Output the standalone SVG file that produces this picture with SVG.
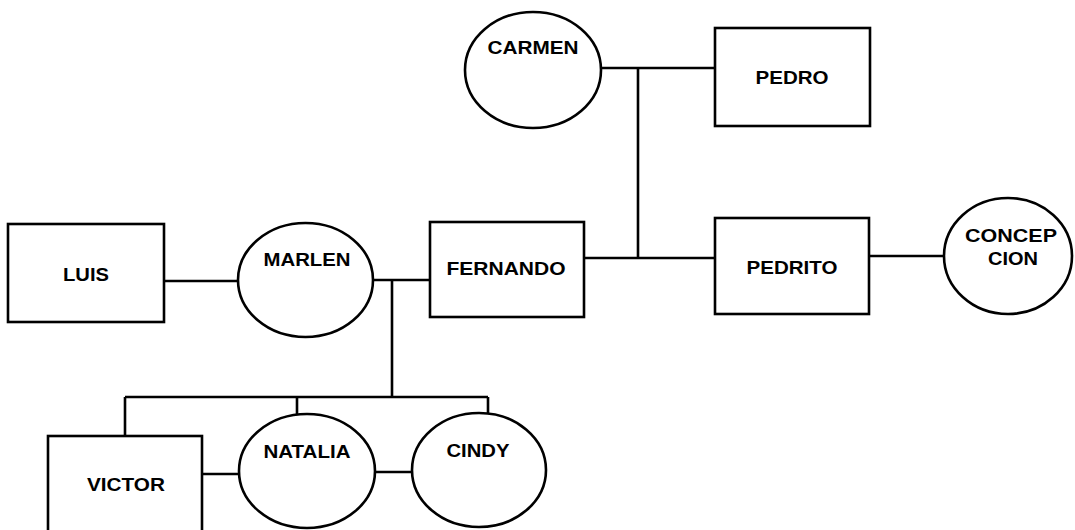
<svg xmlns="http://www.w3.org/2000/svg" width="1075" height="530" viewBox="0 0 1075 530">
<style>
.shape{fill:#fff;stroke:#000;stroke-width:2.6}
.conn{fill:none;stroke:#000;stroke-width:2.6}
text{font-family:"Liberation Sans",Arial,sans-serif;font-weight:bold;font-size:18px;fill:#000;text-anchor:middle}
</style>
<rect width="1075" height="530" fill="#fff"/>
<g id="connectors">
<path class="conn" d="M602,68 H715 M638,68 V258 M584,258 H715"/>
<path class="conn" d="M869,256 H944"/>
<path class="conn" d="M164,281 H238"/>
<path class="conn" d="M373,280 H430"/>
<path class="conn" d="M392,280 V397 M125,397 H488 M125,397 V436 M297,397 V415 M488,397 V413"/>
<path class="conn" d="M202,474 H240"/>
<path class="conn" d="M375,472 H412"/>
</g>
<g id="carmen"><ellipse class="shape" cx="533" cy="70" rx="68" ry="58"/><text x="533" y="54" textLength="91" lengthAdjust="spacingAndGlyphs">CARMEN</text></g>
<g id="pedro"><rect class="shape" x="715" y="28" width="155" height="98"/><text x="792" y="84" textLength="73" lengthAdjust="spacingAndGlyphs">PEDRO</text></g>
<g id="fernando"><rect class="shape" x="430" y="222" width="154" height="95"/><text x="506" y="275" textLength="119" lengthAdjust="spacingAndGlyphs">FERNANDO</text></g>
<g id="pedrito"><rect class="shape" x="715" y="218" width="154" height="96"/><text x="792" y="274" textLength="91" lengthAdjust="spacingAndGlyphs">PEDRITO</text></g>
<g id="concepcion"><ellipse class="shape" cx="1008" cy="256" rx="64" ry="58"/><text x="1011" y="242" textLength="92" lengthAdjust="spacingAndGlyphs">CONCEP</text><text x="1013" y="265" textLength="50" lengthAdjust="spacingAndGlyphs">CION</text></g>
<g id="luis"><rect class="shape" x="8" y="224" width="156" height="98"/><text x="86" y="281" textLength="46" lengthAdjust="spacingAndGlyphs">LUIS</text></g>
<g id="marlen"><ellipse class="shape" cx="305.5" cy="280" rx="67.5" ry="57"/><text x="307" y="266" textLength="87" lengthAdjust="spacingAndGlyphs">MARLEN</text></g>
<g id="victor"><rect class="shape" x="48" y="436" width="154" height="110"/><text x="126" y="491" textLength="78" lengthAdjust="spacingAndGlyphs">VICTOR</text></g>
<g id="natalia"><ellipse class="shape" cx="307" cy="471" rx="68" ry="57"/><text x="307" y="458" textLength="87" lengthAdjust="spacingAndGlyphs">NATALIA</text></g>
<g id="cindy"><ellipse class="shape" cx="479" cy="470" rx="67" ry="57"/><text x="478" y="457" textLength="63" lengthAdjust="spacingAndGlyphs">CINDY</text></g>
</svg>
